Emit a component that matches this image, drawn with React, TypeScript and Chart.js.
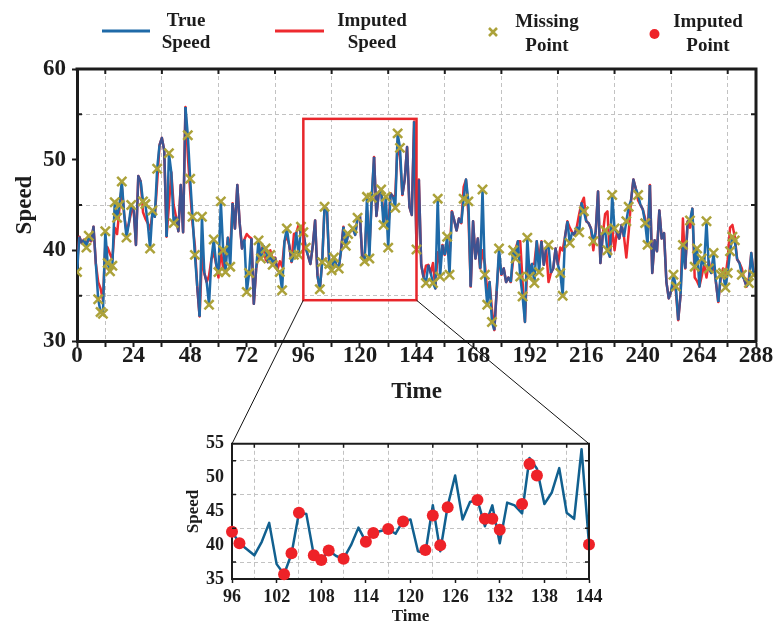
import React, { useEffect, useRef } from 'react';
import { Chart, registerables } from 'chart.js';

Chart.register(...registerables);

// ---------------- data ----------------
const trueSpeed = [
  37.6, 41.5, 40.8, 41.2, 40.3, 41.6, 41.0, 42.6, 38.5, 34.6, 33.2, 33.0,
  42.1, 38.6, 37.7, 38.3, 45.3, 43.6, 45.0, 47.6, 44.0, 41.4, 43.0, 45.0,
  44.7, 40.6, 48.2, 47.6, 45.4, 45.1, 43.0, 40.2, 44.4, 43.7, 49.0, 51.6,
  52.4, 51.0, 41.5, 50.7, 48.6, 43.0, 43.7, 42.1, 47.2, 42.0, 55.8, 52.7,
  47.9, 43.7, 39.5, 36.0, 32.7, 43.7, 37.5, 36.5, 34.0, 39.0, 41.2, 38.5,
  37.6, 45.4, 40.0, 37.6, 41.4, 38.2, 45.2, 42.4, 47.2, 43.0, 40.2, 41.2,
  35.4, 37.5, 41.3, 34.1, 38.0, 41.1, 39.1, 40.5, 40.2, 38.7, 39.5, 38.4,
  39.2, 37.8, 37.6, 35.6, 41.0, 42.4, 40.6, 38.7, 39.5, 41.9, 39.5, 42.6,
  42.0, 40.3, 39.4, 38.5, 40.5, 43.3, 37.2, 35.7, 38.7, 44.8, 44.6, 38.5,
  37.8, 39.2, 38.4, 38.0, 40.0, 42.6, 40.5, 41.8, 42.1, 42.4, 41.7, 43.6,
  43.8, 39.1, 38.8, 45.9, 39.1, 45.8, 50.3, 43.8, 46.4, 46.7, 42.8, 45.9,
  40.3, 46.3, 45.9, 44.7, 52.9, 51.3, 46.1, 47.8, 51.4, 44.8, 43.9, 54.2,
  40.1, 47.8, 38.4, 37.0, 36.4, 38.4, 37.5, 36.4, 35.8, 45.7, 37.1, 40.6,
  39.5, 41.5, 37.3, 44.3, 43.3, 42.2, 43.5, 43.0, 45.7, 47.8, 45.4, 36.0,
  43.2, 39.1, 41.3, 38.0, 46.7, 37.3, 34.0, 36.5, 32.1, 31.2, 35.5, 40.2,
  37.3, 38.0, 36.5, 37.0, 36.5, 40.0, 39.1, 41.0, 37.1, 34.9, 32.1, 41.4,
  37.1, 38.5, 36.4, 41.0, 37.6, 41.0, 38.4, 40.2, 40.6, 37.5, 38.0, 40.2,
  38.4, 37.5, 35.0, 41.5, 43.2, 40.8, 42.0, 41.7, 42.6, 42.0, 45.2, 44.3,
  43.2, 43.0, 42.4, 41.0, 42.0, 46.5, 38.6, 41.7, 42.2, 40.0, 39.3, 46.1,
  42.4, 42.0, 41.3, 42.8, 41.5, 43.2, 44.8, 45.5, 47.8, 46.8, 46.1, 45.0,
  44.5, 43.0, 40.6, 47.2, 37.5, 41.1, 39.9, 44.4, 41.3, 41.9, 36.5, 34.7,
  35.5, 37.3, 36.0, 32.3, 35.1, 40.6, 38.0, 43.2, 43.3, 44.6, 38.2, 40.2,
  36.0, 39.1, 38.4, 43.2, 38.0, 37.5, 39.7, 36.5, 34.3, 37.3, 37.5, 35.9,
  37.5, 39.9, 41.5, 41.1, 39.0, 38.6, 37.3, 36.8, 36.0, 36.4, 39.7, 37.3,
  37.6,
];

const missingIdx = [
  0, 4, 5, 9, 10, 11, 12, 13, 14, 15, 16, 17, 18, 19, 21, 23,
  28, 29, 31, 32, 34, 39, 41, 47, 48, 49, 50, 53, 56, 58, 60, 61,
  62, 63, 65, 72, 73, 77, 78, 80, 82, 83, 86, 87, 89, 92, 94, 95,
  96, 97, 103, 104, 105, 107, 108, 109, 111, 114, 115, 117, 119, 122, 123, 124,
  125, 129, 130, 131, 132, 135, 136, 137, 144,
  148, 151, 153, 154, 157, 158, 164, 166, 172, 173, 174, 176, 179, 185, 186, 188,
  189, 191, 192, 194, 196, 200, 205, 206, 209, 213, 215, 219, 224, 225, 227, 228,
  233, 234, 238, 241, 242, 253, 254, 257, 260, 262, 263, 265, 267, 268, 270, 273,
  274, 275, 276, 277, 278, 279, 282, 285, 287,
];

const imputedAtMissing = [
  38.5, 40.8, 41.2, 36.5, 35.8, 34.5, 40.5, 40.3, 39.6, 39.0, 42.5, 41.8, 44.6, 47.0, 42.0, 44.2,
  44.2, 43.5, 42.3, 44.0, 47.5, 45.0, 45.0, 50.5, 46.5, 43.0, 40.5, 39.5, 37.2, 39.8, 37.0, 40.0,
  38.0, 38.8, 40.0, 41.8, 41.5, 39.5, 40.0, 39.0, 40.0, 39.0, 38.8, 38.2, 41.5, 41.8, 42.8, 41.8,
  42.0, 40.3, 35.7, 38.8, 44.8, 38.5, 37.8, 39.2, 38.0, 40.5, 41.8, 42.4, 43.5, 39.3, 44.4, 40.0,
  45.6, 46.7, 43.9, 43.9, 42.3, 46.1, 52.0, 50.3, 40.1,
  38.3, 38.6, 39.8, 38.5, 40.5, 39.2, 47.0, 44.0, 40.0, 38.5, 35.5, 33.5, 39.5, 39.0, 40.2, 41.0,
  36.5, 38.5, 38.0, 38.5, 39.0, 36.5, 40.3, 40.0, 42.5, 44.0, 45.8, 40.0, 44.0, 44.3, 42.5, 40.0,
  39.2, 42.0, 45.5, 43.5, 41.5, 36.5, 35.5, 43.5, 42.5, 37.0, 36.6, 37.2, 37.0, 38.8, 38.5, 36.8,
  38.0, 37.0, 39.0, 42.5, 42.8, 41.5, 38.0, 37.0, 37.5,
];

const legendLabels = [
  ['True', 'Speed'],
  ['Imputed', 'Speed'],
  ['Missing', 'Point'],
  ['Imputed', 'Point'],
];

const mainTimeRange = [0, 288];
const mainTimeStep = 12;
const mainTimeLabelStep = 24;
const mainSpeedRange = [30, 60];
const mainSpeedStep = 5;
const mainSpeedLabelStep = 10;

const zoomTimeRange = [96, 144];
const zoomBoxSpeed = [34.5, 54.5];
const insetSpeedRange = [35, 55];
const insetTimeStep = 3;
const insetTimeLabelStep = 6;
const insetSpeedStep = 2.5;
const insetSpeedLabelStep = 5;

// ---------------- derived ----------------
const imputedSpeed = trueSpeed.slice();
missingIdx.forEach((t, k) => {
  imputedSpeed[t] = imputedAtMissing[k];
});
const missingSet = new Set(missingIdx);

// ---------------- styles ----------------
const FONT = "'Liberation Serif', 'Times New Roman', Times, serif";
const TEXT = '#1c1c1c';
const AXIS = '#1c1c1c';
const GRID = '#c2c2c2';
const BLUE = '#1f6aa8';
const NAVY = '#3f5391';
const RED = '#ee2a2f';
const OLIVE = '#aca23a';
const INSET_LINE = '#11608f';
const DOT_RED = '#ee2228';
const BOX_RED = '#e8262b';

const isMult = (v: number, m: number) => Math.abs(v / m - Math.round(v / m)) < 1e-6;

const mainDecor = {
  id: 'mainDecor',
  afterDatasetsDraw(chart: any) {
    const { ctx, chartArea: a, scales } = chart;
    const x = scales.x;
    const y = scales.y;
    ctx.save();
    // zoom box
    ctx.strokeStyle = BOX_RED;
    ctx.lineWidth = 2.5;
    const l = x.getPixelForValue(zoomTimeRange[0]);
    const r = x.getPixelForValue(zoomTimeRange[1]);
    const t = y.getPixelForValue(zoomBoxSpeed[1]);
    const b = y.getPixelForValue(zoomBoxSpeed[0]);
    ctx.strokeRect(l, t, r - l, b - t);
    // top & right frame
    ctx.strokeStyle = AXIS;
    ctx.lineWidth = 3;
    ctx.beginPath();
    ctx.moveTo(a.left - 1.5, a.top);
    ctx.lineTo(a.right + 1.5, a.top);
    ctx.moveTo(a.right, a.top);
    ctx.lineTo(a.right, a.bottom + 1.5);
    ctx.stroke();
    // inward minor ticks top / right / left
    ctx.lineWidth = 2;
    ctx.beginPath();
    x.ticks.forEach((tk: any) => {
      if (!isMult(tk.value, mainTimeLabelStep)) {
        const px = x.getPixelForValue(tk.value);
        ctx.moveTo(px, a.top);
        ctx.lineTo(px, a.top + 5);
      }
    });
    y.ticks.forEach((tk: any) => {
      if (!isMult(tk.value, mainSpeedLabelStep)) {
        const py = y.getPixelForValue(tk.value);
        ctx.moveTo(a.right, py);
        ctx.lineTo(a.right - 5, py);
        ctx.moveTo(a.left, py);
        ctx.lineTo(a.left + 5, py);
      }
    });
    ctx.stroke();
    ctx.restore();
  },
  afterDraw(chart: any) {
    const ctx: CanvasRenderingContext2D = chart.ctx;
    ctx.save();
    // legend symbols
    ctx.lineWidth = 3;
    ctx.strokeStyle = BLUE;
    ctx.beginPath();
    ctx.moveTo(102, 31);
    ctx.lineTo(150, 31);
    ctx.stroke();
    ctx.strokeStyle = RED;
    ctx.beginPath();
    ctx.moveTo(275, 31);
    ctx.lineTo(324, 31);
    ctx.stroke();
    ctx.strokeStyle = OLIVE;
    ctx.lineWidth = 2.6;
    ctx.beginPath();
    ctx.moveTo(489, 28);
    ctx.lineTo(497, 36);
    ctx.moveTo(497, 28);
    ctx.lineTo(489, 36);
    ctx.stroke();
    ctx.fillStyle = DOT_RED;
    ctx.beginPath();
    ctx.arc(654.5, 34, 5, 0, Math.PI * 2);
    ctx.fill();
    // legend text
    ctx.fillStyle = TEXT;
    ctx.font = `bold 19px ${FONT}`;
    ctx.textAlign = 'center';
    ctx.textBaseline = 'middle';
    const cx = [186, 372, 547, 708];
    const rows = [
      [21, 43],
      [21, 43],
      [22, 46],
      [22, 46],
    ];
    legendLabels.forEach((lab, i) => {
      ctx.fillText(lab[0], cx[i], rows[i][0]);
      ctx.fillText(lab[1], cx[i], rows[i][1]);
    });
    ctx.restore();
  },
};

const insetDecor = {
  id: 'insetDecor',
  afterDatasetsDraw(chart: any) {
    const { ctx, chartArea: a, scales } = chart;
    const x = scales.x;
    const y = scales.y;
    ctx.save();
    ctx.strokeStyle = AXIS;
    ctx.lineWidth = 2;
    ctx.beginPath();
    ctx.moveTo(a.left - 1, a.top);
    ctx.lineTo(a.right + 1, a.top);
    ctx.moveTo(a.right, a.top);
    ctx.lineTo(a.right, a.bottom + 1);
    ctx.stroke();
    ctx.lineWidth = 1.5;
    ctx.beginPath();
    x.ticks.forEach((tk: any) => {
      if (!isMult(tk.value, insetTimeLabelStep)) {
        const px = x.getPixelForValue(tk.value);
        ctx.moveTo(px, a.top);
        ctx.lineTo(px, a.top + 4);
      }
    });
    y.ticks.forEach((tk: any) => {
      if (!isMult(tk.value, insetSpeedLabelStep)) {
        const py = y.getPixelForValue(tk.value);
        ctx.moveTo(a.right, py);
        ctx.lineTo(a.right - 4, py);
        ctx.moveTo(a.left, py);
        ctx.lineTo(a.left + 4, py);
      }
    });
    ctx.stroke();
    ctx.restore();
  },
};

const MAIN_POS = { left: 0, top: 0, width: 778, height: 410 };
const INSET_POS = { left: 170, top: 425, width: 440, height: 198 };

export default function App() {
  const mainRef = useRef<HTMLCanvasElement>(null);
  const insetRef = useRef<HTMLCanvasElement>(null);
  const overlayRef = useRef<HTMLCanvasElement>(null);

  useEffect(() => {
    Chart.defaults.font.family = FONT;
    Chart.defaults.font.weight = 'bold' as any;
    Chart.defaults.color = TEXT;

    const timeIdx = trueSpeed.map((_, i) => i);

    const main = new Chart(mainRef.current as HTMLCanvasElement, {
      type: 'line',
      data: {
        datasets: [
          {
            label: 'Missing Point',
            data: missingIdx.map((t) => ({ x: t, y: trueSpeed[t] })),
            showLine: false,
            pointStyle: 'crossRot',
            pointRadius: 6.5,
            pointBorderWidth: 2.5,
            pointBorderColor: OLIVE,
            pointBackgroundColor: OLIVE,
            borderColor: OLIVE,
            order: 0,
          },
          {
            label: 'True Speed',
            data: timeIdx.map((i) => ({ x: i, y: trueSpeed[i] })),
            borderColor: BLUE,
            borderWidth: 2.5,
            pointRadius: 0,
            tension: 0,
            borderJoinStyle: 'round',
            segment: {
              borderColor: (c: any) =>
                missingSet.has(c.p0DataIndex) || missingSet.has(c.p1DataIndex) ? BLUE : NAVY,
            },
            order: 1,
          },
          {
            label: 'Imputed Speed',
            data: timeIdx.map((i) => ({ x: i, y: imputedSpeed[i] })),
            borderColor: RED,
            borderWidth: 2.5,
            pointRadius: 0,
            tension: 0,
            borderJoinStyle: 'round',
            order: 2,
          },
        ],
      } as any,
      options: {
        responsive: false,
        animation: false,
        devicePixelRatio: 1,
        events: [],
        layout: { padding: { left: 0, top: 69, right: 22, bottom: 0 } },
        plugins: { legend: { display: false }, tooltip: { enabled: false } },
        scales: {
          x: {
            type: 'linear',
            min: mainTimeRange[0],
            max: mainTimeRange[1],
            afterFit: (s: any) => {
              s.height = 69;
            },
            ticks: {
              stepSize: mainTimeStep,
              autoSkip: false,
              maxRotation: 0,
              minRotation: 0,
              padding: -2,
              font: { size: 23, weight: 'bold', lineHeight: 1 },
              color: TEXT,
              callback: (v: any) => (isMult(Number(v), mainTimeLabelStep) ? String(v) : ''),
            },
            grid: {
              color: (c: any) => (c.tick && !isMult(c.tick.value, mainTimeLabelStep) ? GRID : 'rgba(0,0,0,0)'),
              tickColor: AXIS,
              tickLength: 6,
              tickWidth: 2,
              lineWidth: 1,
            },
            border: { color: AXIS, width: 3, dash: [4, 3] },
            title: {
              display: true,
              text: 'Time',
              font: { size: 23, weight: 'bold' },
              color: TEXT,
              padding: { top: 0, bottom: 4 },
            },
          },
          y: {
            type: 'linear',
            min: mainSpeedRange[0],
            max: mainSpeedRange[1],
            afterFit: (s: any) => {
              s.width = 77;
            },
            ticks: {
              stepSize: mainSpeedStep,
              autoSkip: false,
              padding: 6,
              font: { size: 23, weight: 'bold' },
              color: TEXT,
              callback: (v: any) => (isMult(Number(v), mainSpeedLabelStep) ? String(v) : ''),
            },
            grid: {
              color: (c: any) => (c.tick && !isMult(c.tick.value, mainSpeedLabelStep) ? GRID : 'rgba(0,0,0,0)'),
              tickColor: (c: any) => (c.tick && isMult(c.tick.value, mainSpeedLabelStep) ? AXIS : 'rgba(0,0,0,0)'),
              tickLength: 5,
              tickWidth: 2,
              lineWidth: 1,
            },
            border: { color: AXIS, width: 3, dash: [4, 3] },
            title: {
              display: true,
              text: 'Speed',
              font: { size: 23, weight: 'bold' },
              color: TEXT,
              padding: { top: 11, bottom: 0 },
            },
          },
        },
      } as any,
      plugins: [mainDecor],
    });

    const insetTimes = timeIdx.filter((t) => t >= zoomTimeRange[0] && t <= zoomTimeRange[1]);
    const insetMissing = missingIdx
      .map((t, k) => ({ t, v: imputedAtMissing[k] }))
      .filter((p) => p.t >= zoomTimeRange[0] && p.t <= zoomTimeRange[1]);

    const inset = new Chart(insetRef.current as HTMLCanvasElement, {
      type: 'line',
      data: {
        datasets: [
          {
            label: 'Imputed Point',
            data: insetMissing.map((p) => ({ x: p.t, y: p.v })),
            showLine: false,
            pointStyle: 'circle',
            pointRadius: 6,
            pointBorderWidth: 0,
            pointBackgroundColor: DOT_RED,
            pointBorderColor: DOT_RED,
            clip: false,
            order: 0,
          },
          {
            label: 'True Speed',
            data: insetTimes.map((t) => ({ x: t, y: trueSpeed[t] })),
            borderColor: INSET_LINE,
            borderWidth: 2.5,
            pointRadius: 0,
            tension: 0,
            borderJoinStyle: 'round',
            order: 1,
          },
        ],
      } as any,
      options: {
        responsive: false,
        animation: false,
        devicePixelRatio: 1,
        events: [],
        layout: { padding: { left: 0, top: 12, right: 21, bottom: 0 } },
        plugins: { legend: { display: false }, tooltip: { enabled: false } },
        scales: {
          x: {
            type: 'linear',
            min: zoomTimeRange[0],
            max: zoomTimeRange[1],
            afterFit: (s: any) => {
              s.height = 44;
            },
            ticks: {
              stepSize: insetTimeStep,
              autoSkip: false,
              maxRotation: 0,
              minRotation: 0,
              padding: 5,
              font: { size: 18, weight: 'bold', lineHeight: 1 },
              color: TEXT,
              callback: (v: any) => (isMult(Number(v), insetTimeLabelStep) ? String(v) : ''),
            },
            grid: {
              color: (c: any) => (c.tick && !isMult(c.tick.value, insetTimeLabelStep) ? GRID : 'rgba(0,0,0,0)'),
              tickColor: (c: any) => (c.tick && isMult(c.tick.value, insetTimeLabelStep) ? AXIS : 'rgba(0,0,0,0)'),
              tickLength: 4,
              tickWidth: 1.5,
              lineWidth: 1,
            },
            border: { color: AXIS, width: 2, dash: [4, 3] },
            title: {
              display: true,
              text: 'Time',
              font: { size: 17, weight: 'bold', lineHeight: 0.7 },
              color: TEXT,
              padding: { top: 0, bottom: 0 },
            },
          },
          y: {
            type: 'linear',
            min: insetSpeedRange[0],
            max: insetSpeedRange[1],
            afterFit: (s: any) => {
              s.width = 62;
            },
            ticks: {
              stepSize: insetSpeedStep,
              autoSkip: false,
              padding: 8,
              font: { size: 18, weight: 'bold' },
              color: TEXT,
              callback: (v: any) => (isMult(Number(v), insetSpeedLabelStep) ? String(v) : ''),
            },
            grid: {
              color: (c: any) => (c.tick && !isMult(c.tick.value, insetSpeedLabelStep) ? GRID : 'rgba(0,0,0,0)'),
              drawTicks: false,
              lineWidth: 1,
            },
            border: { color: AXIS, width: 2, dash: [4, 3] },
            title: {
              display: true,
              text: 'Speed',
              font: { size: 17, weight: 'bold' },
              color: TEXT,
              padding: { top: 13, bottom: 0 },
            },
          },
        },
      } as any,
      plugins: [insetDecor],
    });

    // connector lines between the zoom box and the inset
    const oc = (overlayRef.current as HTMLCanvasElement).getContext('2d') as CanvasRenderingContext2D;
    oc.clearRect(0, 0, 778, 623);
    const mx = main.scales.x as any;
    const my = main.scales.y as any;
    const ia = inset.chartArea;
    const bl = { x: MAIN_POS.left + mx.getPixelForValue(zoomTimeRange[0]), y: MAIN_POS.top + my.getPixelForValue(zoomBoxSpeed[0]) };
    const br = { x: MAIN_POS.left + mx.getPixelForValue(zoomTimeRange[1]), y: MAIN_POS.top + my.getPixelForValue(zoomBoxSpeed[0]) };
    oc.save();
    oc.strokeStyle = '#111';
    oc.lineWidth = 1;
    oc.beginPath();
    oc.moveTo(bl.x, bl.y);
    oc.lineTo(INSET_POS.left + ia.left, INSET_POS.top + ia.top);
    oc.moveTo(br.x, br.y);
    oc.lineTo(INSET_POS.left + ia.right, INSET_POS.top + ia.top);
    oc.stroke();
    oc.restore();

    return () => {
      main.destroy();
      inset.destroy();
    };
  }, []);

  return (
    <div style={{ position: 'fixed', left: 0, top: 0, width: 778, height: 623, background: '#ffffff' }}>
      <canvas
        ref={mainRef}
        width={MAIN_POS.width}
        height={MAIN_POS.height}
        style={{ position: 'absolute', left: MAIN_POS.left, top: MAIN_POS.top }}
      />
      <canvas
        ref={insetRef}
        width={INSET_POS.width}
        height={INSET_POS.height}
        style={{ position: 'absolute', left: INSET_POS.left, top: INSET_POS.top }}
      />
      <canvas
        ref={overlayRef}
        width={778}
        height={623}
        style={{ position: 'absolute', left: 0, top: 0, pointerEvents: 'none' }}
      />
    </div>
  );
}
